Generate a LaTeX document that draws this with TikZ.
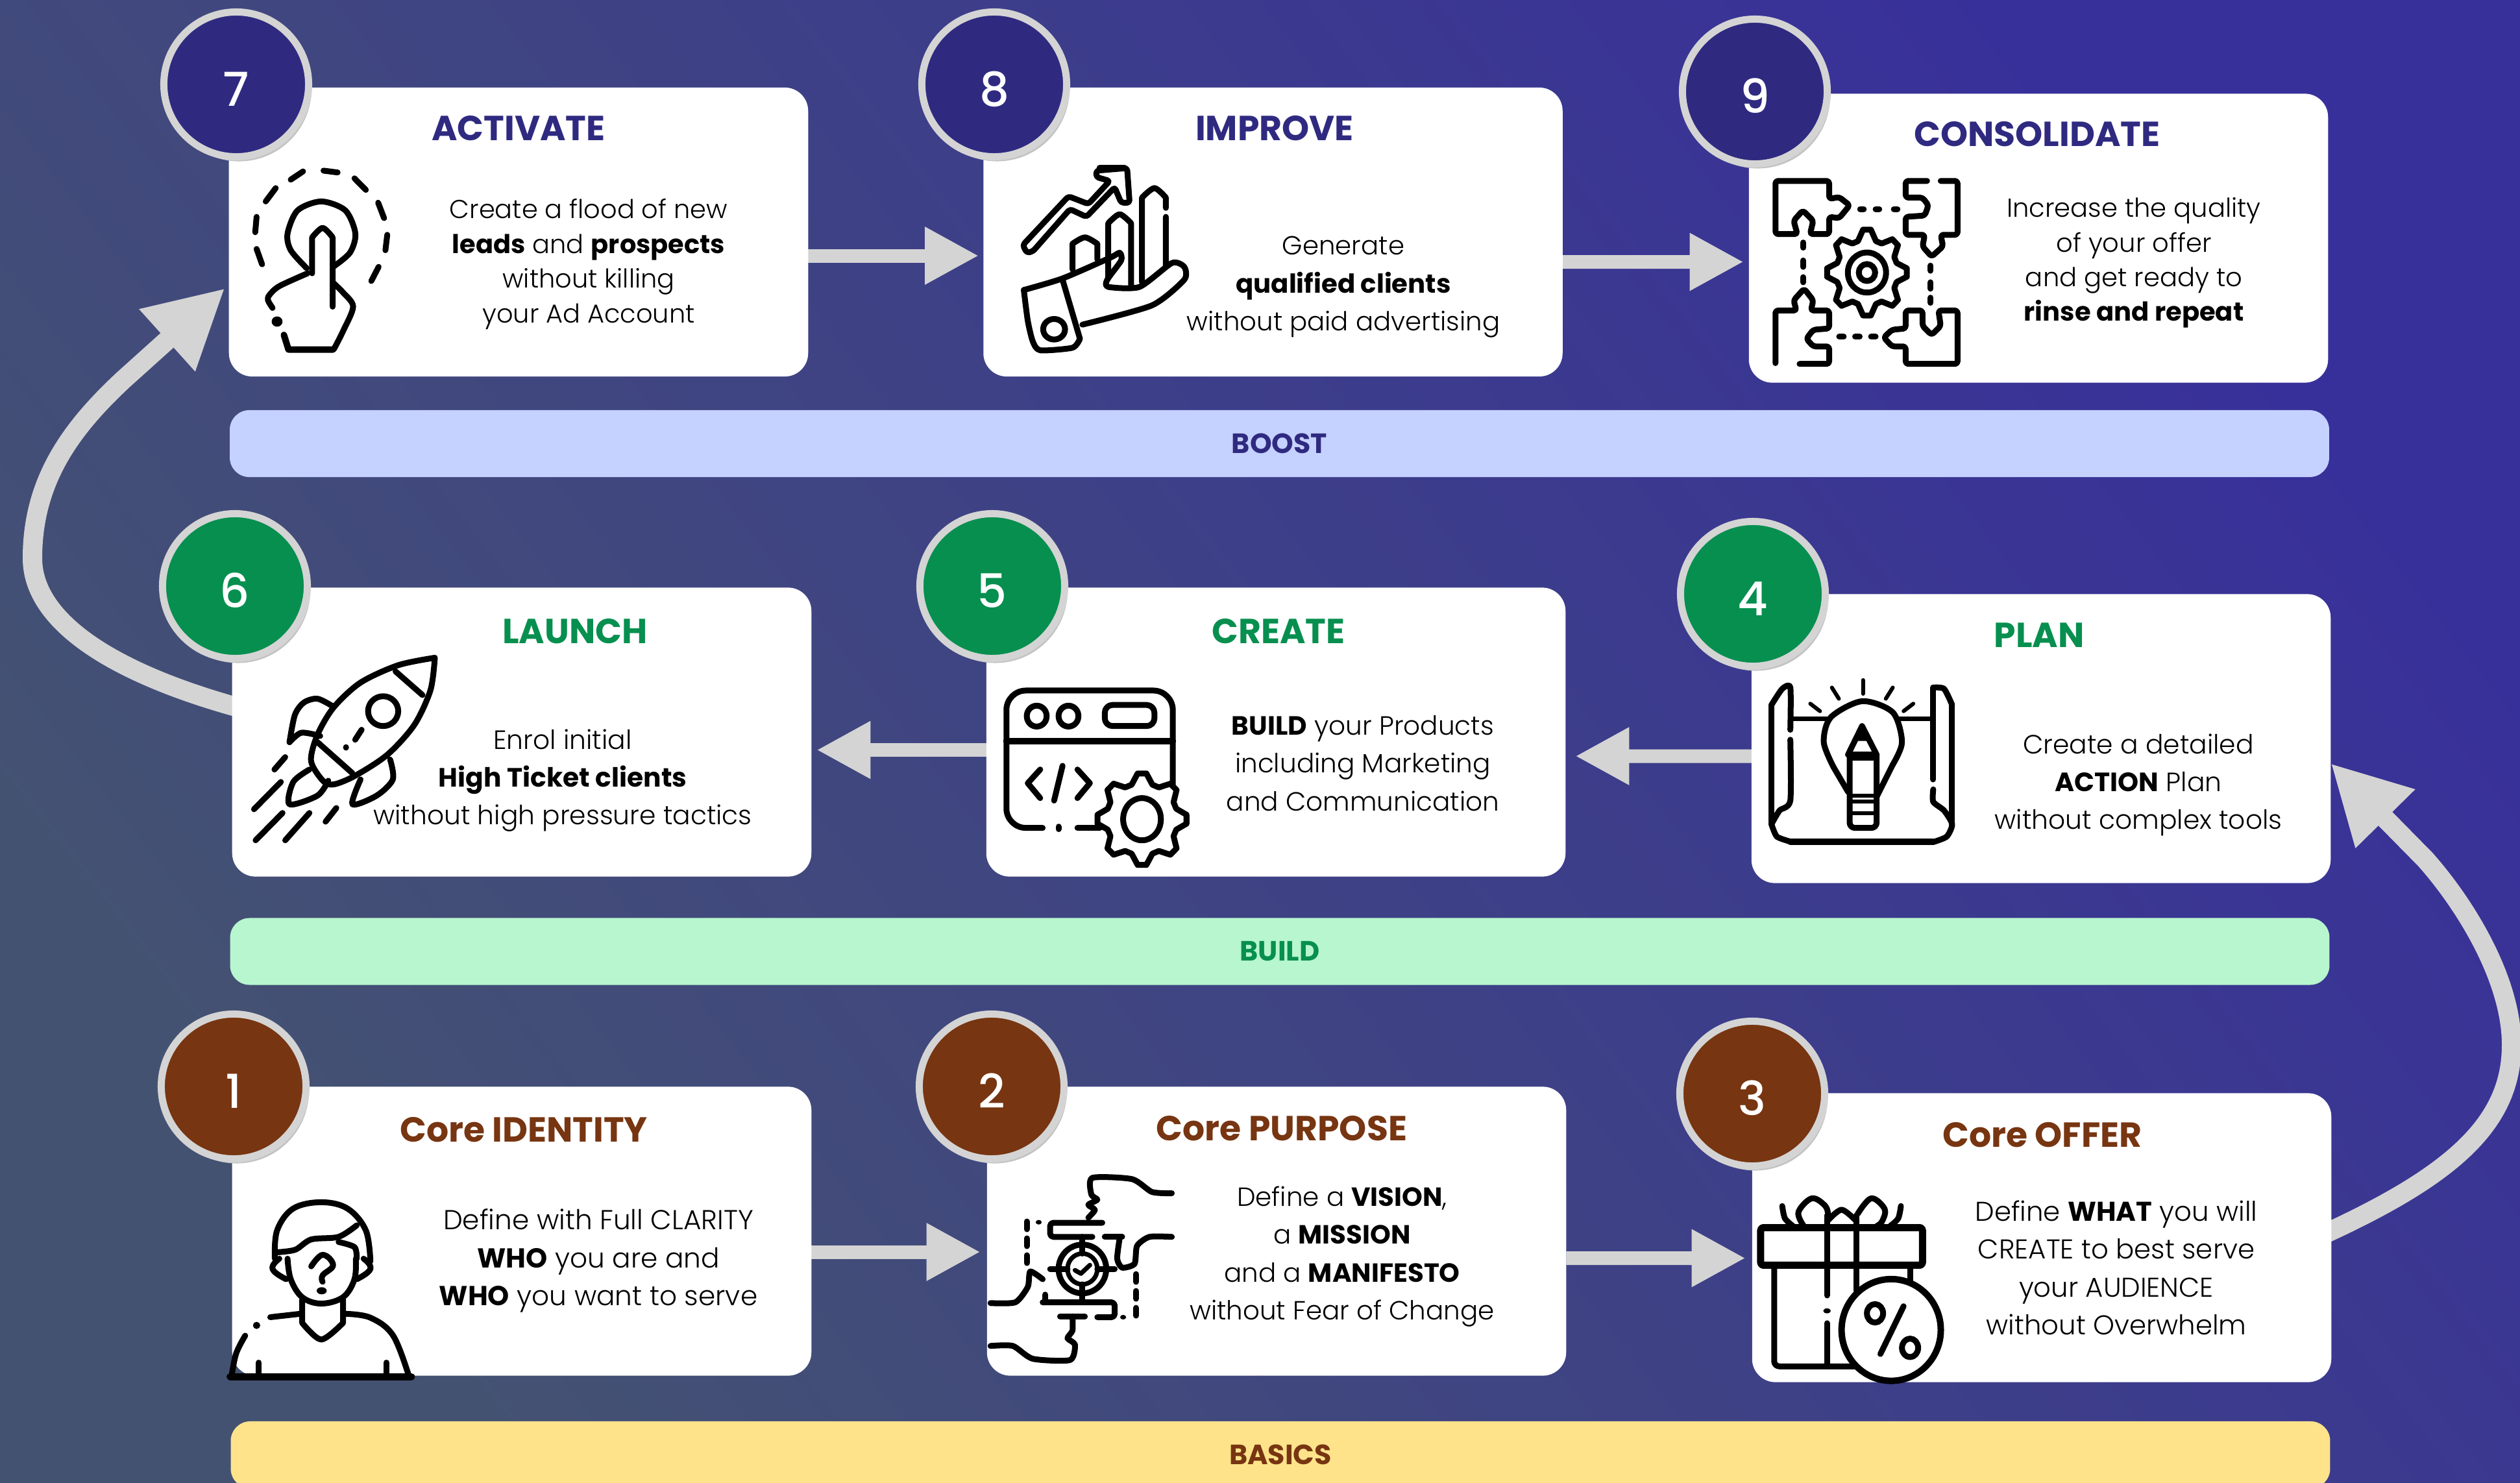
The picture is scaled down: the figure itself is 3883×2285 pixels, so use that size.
\documentclass[tikz,border=0pt]{standalone}
\usepackage{fontspec}
\setmainfont{Poppins Light}[BoldFont={Poppins Bold}]
\newfontfamily\regf{Poppins}[BoldFont={Poppins Bold}]
\newfontfamily\numf{Poppins Medium}
\usetikzlibrary{arrows.meta,backgrounds,shadows}
\definecolor{navyc}{HTML}{2F2A80}
\definecolor{greenc}{HTML}{078F4F}
\definecolor{brownc}{HTML}{773511}
\definecolor{ringc}{HTML}{D4D4D4}
\definecolor{bgblue}{HTML}{38309A}
\definecolor{bggrey}{HTML}{445272}
\definecolor{boostc}{HTML}{C5D1FF}
\definecolor{buildc}{HTML}{B7F6CE}
\definecolor{basicsc}{HTML}{FEE38B}
\tikzset{
  card/.style={rectangle,fill=white,rounded corners=0.36cm,minimum width=8.92cm,minimum height=4.45cm,inner sep=0pt,outer sep=0pt},
  band/.style={rectangle,rounded corners=0.3cm,minimum width=32.33cm,minimum height=1.03cm,inner sep=0pt,font=\regf\bfseries\fontsize{12.2}{14}\selectfont},
  badge/.style={circle,draw=ringc,line width=0.11cm,minimum size=2.23cm,inner sep=0pt,outer sep=0pt,text=white,text height=0.67cm,text depth=0pt,
    font=\numf\fontsize{20.5}{23}\selectfont,drop shadow={shadow xshift=0.045cm,shadow yshift=-0.07cm,fill=ringc!92!black,opacity=1}},
  cardtitle/.style={inner sep=0pt,font=\regf\bfseries\fontsize{15.25}{18}\selectfont},
  body/.style={inner sep=0pt,align=center,text=black},
  flow/.style={draw=ringc,line width=0.21cm,-{Triangle[length=0.83cm,width=0.83cm]},color=ringc},
  sweep/.style={draw=ringc,line width=0.3cm,-{Triangle[length=1.2cm,width=1.2cm]},color=ringc},
  ic/.style={draw=black,line width=0.09cm,line cap=round,line join=round},
  icw/.style={ic,fill=white},
}
\newcommand{\geartooth}[6]{%
  \draw[icw] plot[samples at={0,11.25,...,348.75}]
   ({#1+(#5+(#3-#5)*ifthenelse(mod(\x,45)<15,1,0))*cos(\x-5.625)},
    {#2+(#6+(#4-#6)*ifthenelse(mod(\x,45)<15,1,0))*sin(\x-5.625)}) -- cycle;}
\begin{document}
\begin{tikzpicture}[x=0.01cm,y=-0.01cm]
\useasboundingbox (0,0) rectangle (3883,2285);

% cards
\node[card] (c7) at (799,357.5) {};
\node[card] (c8) at (1961.5,357.5) {};
\node[card] (c9) at (3141,367) {};
\node[card] (c6) at (804,1128) {};
\node[card] (c5) at (1966,1128) {};
\node[card] (c4) at (3145,1138) {};
\node[card] (c1) at (804,1897) {};
\node[card] (c2) at (1967,1897) {};
\node[card] (c3) at (3146,1907) {};

% bands
\node[band,fill=boostc,text=navyc] (bboost) at (1971.5,683.5) {BOOST};
\node[band,fill=buildc,text=greenc] (bbuild) at (1972,1466) {BUILD};
\node[band,fill=basicsc,text=brownc] (bbasics) at (1973,2241.5) {BASICS};

% titles
\node[cardtitle,text=navyc] (t7) at (799,198) {ACTIVATE};
\node[cardtitle,text=navyc] (t8) at (1964,198) {IMPROVE};
\node[cardtitle,text=navyc] (t9) at (3139,207) {CONSOLIDATE};
\node[cardtitle,text=greenc] (t6) at (886,973) {LAUNCH};
\node[cardtitle,text=greenc] (t5) at (1970,973) {CREATE};
\node[cardtitle,text=greenc] (t4) at (3142,979) {PLAN};
\node[cardtitle,text=brownc] (t1) at (807,1741) {Core IDENTITY};
\node[cardtitle,text=brownc] (t2) at (1975,1739) {Core PURPOSE};
\node[cardtitle,text=brownc] (t3) at (3147,1749) {Core OFFER};

% body texts
\node[body,font=\fontsize{11.35}{15.2}\selectfont] (d7) at (907,407) {Create a flood of new\\\textbf{leads} and \textbf{prospects}\\without killing\\your Ad Account};
\node[body,font=\fontsize{11.45}{16.6}\selectfont] (d8) at (2070,442.5) {Generate\\\textbf{qualified clients}\\without paid advertising};
\node[body,font=\fontsize{11.4}{15.2}\selectfont] (d9) at (3288,405) {Increase the quality\\of your offer\\and get ready to\\\textbf{rinse and repeat}};
\node[body,font=\fontsize{11.6}{16.6}\selectfont] (d6) at (867,1202.5) {Enrol initial\\\textbf{High Ticket clients}\\without high pressure tactics};
\node[body,font=\fontsize{11.55}{16.6}\selectfont] (d5) at (2100,1176) {\textbf{BUILD} your Products\\including Marketing\\and Communication};
\node[body,font=\fontsize{11.6}{16.6}\selectfont] (d4) at (3295,1209.5) {Create a detailed\\\textbf{ACTION} Plan\\without complex tools};
\node[body,font=\fontsize{12}{16.7}\selectfont] (d1) at (922,1942.5) {Define with Full CLARITY\\\textbf{WHO} you are and\\\textbf{WHO} you want to serve};
\node[body,font=\fontsize{11.5}{16.6}\selectfont] (d2) at (2068,1936) {Define a \textbf{VISION},\\a \textbf{MISSION}\\and a \textbf{MANIFESTO}\\without Fear of Change};
\node[body,font=\fontsize{11.9}{16.6}\selectfont] (d3) at (3261,1953.5) {Define \textbf{WHAT} you will\\CREATE to best serve\\your AUDIENCE\\without Overwhelm};

% badges
\node[badge,fill=navyc] (n7) at (364,130) {7};
\node[badge,fill=navyc] (n8) at (1532,130) {8};
\node[badge,fill=navyc] (n9) at (2704,141) {9};
\node[badge,fill=greenc] (n6) at (362,903) {6};
\node[badge,fill=greenc] (n5) at (1529,903) {5};
\node[badge,fill=greenc] (n4) at (2701,915) {4};
\node[badge,fill=brownc] (n1) at (360,1674) {1};
\node[badge,fill=brownc] (n2) at (1528,1674) {2};
\node[badge,fill=brownc] (n3) at (2700,1685) {3};

% background + connectors
\begin{scope}[on background layer]
\shade[top color=bgblue,bottom color=bggrey,shading angle=-52] (0,0) rectangle (3883,2285);
\draw[flow,shorten >=0.07cm] ([yshift=-0.365cm]c7.east) -- ([yshift=-0.365cm]c8.west);
\draw[flow,shorten >=0.08cm] ([yshift=-0.46cm]c8.east) -- ([yshift=-0.365cm]c9.west);
\draw[flow,shorten >=0.15cm] ([yshift=-0.27cm]c4.west) -- ([yshift=-0.37cm]c5.east);
\draw[flow,shorten >=0.08cm] ([yshift=-0.275cm]c5.west) -- ([yshift=-0.275cm]c6.east);
\draw[flow,shorten >=0.10cm] ([yshift=-0.32cm]c1.east) -- ([yshift=-0.32cm]c2.west);
\draw[flow,shorten >=0.10cm] ([yshift=-0.415cm]c2.east) -- ([yshift=-0.315cm]c3.west);
\draw[sweep] ([xshift=0.2cm,yshift=0.35cm]c6.west) .. controls (180,1040) and (50,960) .. (50,860)
  .. controls (50,740) and (110,660) .. (189,586) -- ([xshift=-0.06cm,yshift=-0.865cm]c7.west);
\draw[sweep] ([xshift=-0.1cm,yshift=0.06cm]c3.east) .. controls (3780,1810) and (3870,1730) .. (3870,1610)
  .. controls (3870,1510) and (3800,1395) .. (3737,1324) -- ([yshift=-0.38cm]c4.east);
\end{scope}

% ---------- icon 7: touch
\begin{scope}[shift={(220,0)},xscale=0.7015,yscale=0.3954]
\draw[ic] (325,700)--(352,668) (397,665)--(428,672) (465,695)--(490,740) (270,785)--(292,733)
  (517,790)--(530,850) (537,915)--(533,975) (518,1040)--(502,1095) (250,845)--(247,905) (250,970)--(262,1030);
\fill (295,1253) circle[x radius=12,y radius=20];
\draw[ic] plot[smooth] coordinates {(360,1045)(325,975)(318,910)(340,820)(392,785)(445,820)(467,910)(455,985)(418,1040)};
\draw[ic] (372,1065)--(372,925) plot[smooth] coordinates {(372,925)(395,888)(417,925)} (417,925)--(417,1195);
\draw[ic] plot[smooth] coordinates {(362,1065)(300,1115)(278,1150)(275,1170)(285,1200)};
\draw[ic] plot[smooth] coordinates {(417,1100)(440,1140)(462,1195)(440,1290)(420,1360)};
\draw[ic,line width=0.1cm] (310,1305)--(320,1362)--(418,1362);
\end{scope}

% ---------- icon 8: growth in hand
\begin{scope}[shift={(1400,0)},xscale=0.7653,yscale=0.3954]
\draw[ic,rounded corners=0.04cm] (238,985)--(230,955)--(322,765)--(362,795)--(405,705)--(378,690)--(378,665)--(440,655)--(445,790)--(428,790)--(415,730)--(358,845)--(325,815)--(250,980)--cycle;
\draw[ic,line width=0.1cm] (385,655)--(435,655);
\draw[ic] (330,1050)--(330,950) plot[smooth] coordinates {(330,950)(355,925)(380,950)} (380,950)--(380,1010);
\draw[ic] (402,1085)--(402,870) plot[smooth] coordinates {(402,870)(425,835)(448,870)} (448,870)--(448,1110);
\draw[ic] (470,1100)--(470,770) plot[smooth] coordinates {(470,770)(495,733)(518,770)} (518,770)--(518,810) (518,845)--(518,1040);
\draw[ic] plot[smooth,tension=0.4] coordinates {(232,1130)(310,1085)(405,1005)(425,985)(428,1015)(400,1090)(402,1118)(465,1118)(530,1025)(555,1040)(555,1090)(490,1190)(350,1265)};
\draw[ic] plot[smooth,tension=0.4] coordinates {(232,1130)(240,1250)(250,1330)(265,1365)(330,1355)(345,1320)};
\draw[ic] (310,1090)--(345,1320);
\draw[ic] (293,1283) circle[x radius=22,y radius=40];
\end{scope}

% ---------- icon 9: puzzle and gear
\begin{scope}[shift={(2580,0)},xscale=0.7015,yscale=0.3954]
\begin{scope}[rounded corners=0.04cm]
\draw[ic] (222,705)--(340,705)--(340,775)--(362,768)--(385,800)--(362,850)--(340,845)--(340,912)--(298,912)--(305,860)--(282,820)--(262,860)--(270,912)--(222,912)--cycle;
\draw[ic] (585,705)--(622,705)--(622,915)--(585,915)--(590,960)--(565,1000)--(545,960)--(550,915)--(508,915)--(508,845)--(550,840)--(558,800)--(545,770)--(508,770)--(508,705)--(555,705);
\draw[ic] (275,1418)--(340,1418)--(340,1350)--(305,1350)--(290,1320)--(305,1285)--(340,1280)--(340,1210)--(300,1210)--(305,1170)--(285,1125)--(262,1170)--(268,1210)--(222,1210)--(222,1415);
\draw[ic] (622,1418)--(508,1418)--(508,1350)--(478,1350)--(460,1315)--(478,1285)--(508,1280)--(508,1210)--(545,1210)--(545,1270)--(565,1305)--(585,1270)--(580,1210)--(622,1210)--cycle;
\end{scope}
\draw[ic] (408,815)--(416,815) (442,815)--(450,815) (482,815)--(490,815)
  (283,945)--(283,965) (283,1015)--(283,1040) (283,1080)--(283,1100)
  (563,1035)--(563,1055) (563,1100)--(563,1125) (563,1160)--(563,1180)
  (362,1312)--(372,1312) (397,1312)--(407,1312) (432,1312)--(442,1312);
\geartooth{423}{1062}{88}{168}{68}{128}{}
\draw[ic] (423,1062) circle[x radius=42,y radius=78];
\draw[ic] (423,1062) circle[x radius=18,y radius=33];
\end{scope}

% ---------- icon 6: rocket
\begin{scope}[shift={(0,780)},xscale=0.8292,yscale=0.3827]
\draw[ic] plot[smooth,tension=0.5] coordinates {(808,610)(740,640)(670,710)(620,810)(590,920)(578,1025)(600,1105)(620,1120)(660,1085)(720,1000)(770,880)(800,740)(808,610)};
\draw[ic] (735,665)--(785,760) (590,950)--(655,1075);
\draw[ic] (712,825) circle[x radius=28,y radius=60];
\draw[ic] (672,900)--(660,940) (643,970)--(643,972);
\draw[ic] plot[smooth,tension=0.5] coordinates {(618,805)(590,775)(565,790)(548,840)(538,950)};
\draw[ic] plot[smooth,tension=0.5] coordinates {(538,950)(560,912)(595,925)};
\draw[ic] plot[smooth,tension=0.5] coordinates {(575,1060)(545,1110)(538,1200)(590,1165)(610,1105)};
\draw[ic] plot[smooth,tension=0.5] coordinates {(725,1020)(730,1100)(700,1165)(655,1200)(670,1100)};
\draw[ic] (530,1010)--(510,1060) (522,1110)--(472,1220) (525,1235)--(475,1345) (575,1235)--(530,1345) (625,1215)--(605,1270);
\end{scope}

% ---------- icon 5: window and gear
\begin{scope}[shift={(1400,780)},xscale=0.7653,yscale=0.3827]
\draw[ic,rounded corners=0.3cm] (270,1295)--(197,1295)--(197,742)--(532,742)--(532,1120);
\draw[ic] (340,1295)--(385,1295) (302,1290)--(302,1300);
\draw[ic,line width=0.1cm] (197,945)--(532,945);
\draw[ic] (258,845) circle[x radius=20,y radius=42];
\draw[ic] (322,845) circle[x radius=20,y radius=42];
\draw[ic,rounded corners=0.12cm] (395,800) rectangle (495,885);
\draw[ic] (265,1060)--(240,1115)--(265,1175) (310,1045)--(293,1185) (340,1060)--(365,1115)--(340,1175);
\geartooth{470}{1260}{90}{185}{72}{145}{}
\draw[ic] (470,1260) circle[x radius=38,y radius=85];
\end{scope}

% ---------- icon 4: blueprint and bulb
\begin{scope}[shift={(2580,780)},xscale=0.831,yscale=0.3827]
\draw[ic] plot[smooth,tension=0.4] coordinates {(215,900)(215,730)(200,735)(180,800)};
\draw[ic] (180,800)--(180,1280);
\draw[ic] plot[smooth,tension=0.4] coordinates {(215,940)(215,1185)(195,1225)(180,1280)};
\draw[ic] plot[smooth,tension=0.4] coordinates {(180,1280)(190,1330)(215,1350)};
\draw[ic,line width=0.1cm] (215,1352)--(480,1352);
\draw[ic] plot[smooth,tension=0.4] coordinates {(480,1352)(505,1330)(515,1280)(500,1225)(480,1190)(480,1140)};
\draw[ic] (480,1100)--(480,730);
\draw[ic] plot[smooth,tension=0.4] coordinates {(480,730)(500,735)(515,800)};
\draw[ic] (515,800)--(515,1280);
\draw[ic,line width=0.07cm] (220,855)--(285,855) (415,855)--(478,855);
\draw[ic] plot[smooth,tension=0.5] coordinates {(295,1050)(277,950)(290,850)(348,785)(405,830)(422,950)(405,1040)};
\draw[ic] (405,1040)--(375,1170) (295,1050)--(322,1150);
\draw[ic,line width=0.06cm] (350,700)--(350,755) (292,730)--(305,775) (405,730)--(392,775) (252,795)--(270,825) (443,795)--(425,825);
\draw[ic] (348,885)--(322,1000)--(375,1000)--cycle;
\fill (348,885)--(335,945)--(362,945)--cycle;
\draw[ic,rounded corners=0.08cm] (325,1000)--(325,1295)--(375,1295)--(375,1000);
\draw[ic,line width=0.06cm] (325,1017)--(375,1017) (325,1165)--(375,1165) (325,1190)--(375,1190) (325,1235)--(375,1235);
\end{scope}

% ---------- icon 1: person
\begin{scope}[shift={(220,1540)},xscale=0.7015,yscale=0.3954]
\draw[ic] plot[smooth,tension=0.6] coordinates {(290,1010)(295,900)(330,815)(392,790)(450,815)(490,900)(500,1020)};
\draw[ic] plot[smooth,tension=0.5] coordinates {(295,985)(335,975)(370,935)(430,925)(470,880)};
\draw[ic] plot[smooth,tension=0.5] coordinates {(430,945)(465,965)(470,1010)};
\draw[ic] plot[smooth,tension=0.6] coordinates {(318,1010)(325,1090)(350,1160)(392,1185)(440,1160)(465,1090)(468,1010)};
\draw[ic] plot[smooth,tension=0.8] coordinates {(300,1010)(285,1050)(315,1090)};
\draw[ic] plot[smooth,tension=0.8] coordinates {(485,1010)(500,1050)(470,1090)};
\draw[ic] plot[smooth,tension=0.7] coordinates {(370,1040)(395,995)(418,1035)(395,1075)(395,1100)};
\fill (393,1135) circle[x radius=11,y radius=14];
\draw[ic] (350,1170)--(350,1260) plot[smooth] coordinates {(350,1260)(392,1325)(440,1260)} (440,1260)--(440,1170);
\draw[ic] (280,1238)--(345,1225);
\draw[ic] plot[smooth,tension=0.6] coordinates {(445,1225)(500,1240)(550,1310)(585,1470)};
\fill (250,1270) circle[x radius=8,y radius=14];
\draw[ic] plot[smooth,tension=0.6] coordinates {(225,1310)(205,1380)(195,1470)};
\draw[ic,line width=0.11cm] (192,1470)--(590,1470);
\draw[ic] (255,1415)--(255,1465) (535,1415)--(535,1465);
\end{scope}

% ---------- icon 2: framing hands and target
\begin{scope}[shift={(1400,1540)},xscale=0.7653,yscale=0.3954]
\draw[ic] plot[smooth,tension=0.4] coordinates {(530,755)(490,750)(450,700)(370,695)(368,760)(380,780)(362,800)(375,820)(362,850)};
\draw[ic,rounded corners=0.05cm] (390,870)--(285,870)--(285,925)--(370,925);
\draw[ic] (395,925)--(430,925);
\draw[ic] plot[smooth,tension=0.4] coordinates {(530,925)(485,925)(460,960)(455,1030)(430,1045)(420,1010)(425,930)};
\draw[ic] (350,1050) circle[x radius=48,y radius=95];
\draw[ic,line width=0.07cm] (350,1050) circle[x radius=30,y radius=60];
\draw[ic,line width=0.07cm] (335,1055)--(347,1068)--(365,1035);
\draw[ic] (350,925)--(350,990) (350,1110)--(350,1175) (285,1050)--(320,1050) (380,1050)--(415,1050);
\draw[ic,dash pattern=on 0.12cm off 0.14cm] (238,865)--(238,1035);
\draw[ic,dash pattern=on 0.12cm off 0.14cm] (458,1070)--(458,1240);
\fill (262,868) circle[x radius=6,y radius=9];
\fill (432,1238) circle[x radius=6,y radius=9];
\draw[ic] plot[smooth,tension=0.4] coordinates {(165,1183)(215,1180)(240,1120)(245,1060)(270,1090)};
\draw[ic,rounded corners=0.05cm] (270,1180)--(415,1180)--(415,1238)--(380,1238);
\draw[ic] (305,1235)--(355,1235) (275,1150)--(275,1180);
\draw[ic] plot[smooth,tension=0.4] coordinates {(330,1235)(330,1290)(320,1320)(335,1345)(325,1405)(250,1400)(210,1350)(165,1350)};
\end{scope}

% ---------- icon 3: gift and percent
\begin{scope}[shift={(2580,1540)},xscale=0.831,yscale=0.475]
\draw[ic,line width=0.11cm,rounded corners=0.04cm] (160,740) rectangle (460,862);
\draw[ic,rounded corners=0.08cm] (185,862)--(185,1190)--(335,1190);
\draw[ic] (437,862)--(437,915);
\draw[ic] (283,700)--(283,960) (283,1050)--(283,1190) (338,700)--(338,945);
\fill (283,1010) circle[x radius=7,y radius=8];
\draw[ic] plot[smooth] coordinates {(283,720)(310,682)(338,720)};
\draw[ic] plot[smooth,tension=0.6] coordinates {(240,735)(230,690)(255,645)(280,670)(285,700)};
\draw[ic] plot[smooth,tension=0.6] coordinates {(340,695)(365,645)(390,680)(385,720)(375,735)};
\draw[ic] plot[smooth] coordinates {(200,670)(205,710)(220,735)};
\draw[ic] plot[smooth] coordinates {(420,670)(415,710)(400,735)};
\draw[icw,line width=0.1cm] (402,1072) circle[x radius=92,y radius=165];
\draw[ic] (425,995)--(382,1150);
\draw[ic] (372,1018) circle[x radius=15,y radius=30];
\draw[ic] (437,1130) circle[x radius=15,y radius=30];
\end{scope}
\end{tikzpicture}
\end{document}
